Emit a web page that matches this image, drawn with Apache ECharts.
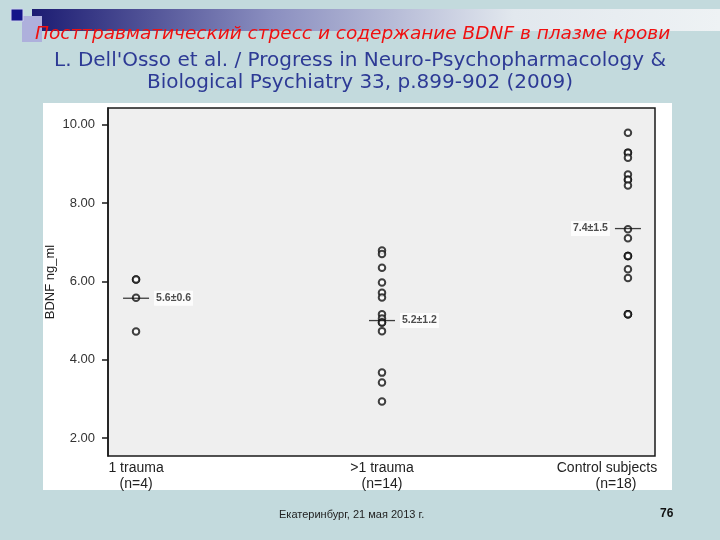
<!DOCTYPE html>
<html>
<head>
<meta charset="utf-8">
<script src="https://cdn.jsdelivr.net/npm/echarts@6/dist/echarts.min.js"></script>
<style>
  html, body { margin: 0; padding: 0; background: #c3dadd; }
  #chart { width: 720px; height: 540px; }
</style>
</head>
<body>
<div id="chart"></div>
<script>
// groups on the x axis
const groupNames = ["1 trauma", ">1 trauma", "Control subjects"];
const groupN = ["(n=4)", "(n=14)", "(n=18)"];

// BDNF ng/ml
const oneTrauma = [6.05, 6.05, 5.58, 4.72];
const multiTrauma = [6.79, 6.70, 6.35, 5.97, 5.71, 5.59, 5.16, 5.05, 4.95, 4.95, 4.73, 3.67, 3.42, 2.93];
const controls = [9.80, 9.29, 9.29, 9.16, 8.73, 8.60, 8.60, 8.45, 7.33, 7.10, 6.65, 6.65, 6.65, 6.31, 6.09, 5.16, 5.16, 5.16];

// mean marks and their labels
const meanLines = [5.57, 5.0, 7.35];
const meanLabels = ["5.6±0.6", "5.2±1.2", "7.4±1.5"];

const yTicks = [2, 4, 6, 8, 10];
const xTicks = [0, 1, 2];

const myChart = echarts.init(document.getElementById("chart"));

function pts(arr, g) {
  return arr.map(v => [g, v]);
}

const option = {
  backgroundColor: "#c3dadd",
  animation: false,
  graphic: [
    // top decoration
    {
      type: "rect", z: -2,
      shape: { x: 32, y: 9, width: 688, height: 22 },
      style: {
        fill: new echarts.graphic.LinearGradient(0, 0, 1, 0, [
          { offset: 0, color: "#1c1c72" },
          { offset: 0.35, color: "#8b8fc0" },
          { offset: 0.7, color: "#e2e8ee" },
          { offset: 1, color: "#eef2f4" }
        ])
      }
    },
    { type: "rect", z: -2, shape: { x: 22, y: 16, width: 20, height: 26 }, style: { fill: "#aeb0dc" } },
    { type: "rect", z: -2, shape: { x: 11, y: 9, width: 12, height: 12 }, style: { fill: "#14148a", stroke: "#cfd3f0", lineWidth: 1 } },
    // white panel behind the chart
    { type: "rect", z: -1, shape: { x: 43, y: 103, width: 629, height: 387 }, style: { fill: "#ffffff" } },
    {
      type: "text", left: 35, top: 25,
      style: {
        text: "Посттравматический стресс и содержание BDNF в плазме крови",
        fill: "#f01010", font: "italic 18.5px 'DejaVu Sans'"
      }
    },
    {
      type: "text", left: "center", top: 51,
      style: {
        text: "L. Dell'Osso et al. / Progress in Neuro-Psychopharmacology &",
        fill: "#2d3a95", font: "20px 'DejaVu Sans'"
      }
    },
    {
      type: "text", left: "center", top: 73,
      style: {
        text: "Biological Psychiatry 33, p.899-902 (2009)",
        fill: "#2d3a95", font: "20px 'DejaVu Sans'"
      }
    },
    {
      type: "text", left: 279, top: 509,
      style: { text: "Екатеринбург, 21 мая 2013 г.", fill: "#222", font: "11px 'Liberation Sans'" }
    },
    {
      type: "text", left: 660, top: 508,
      style: { text: "76", fill: "#111", font: "bold 12px 'Liberation Sans'" }
    }
  ],
  grid: {
    left: 108,
    right: 65,
    top: 108,
    bottom: 84,
    show: true,
    backgroundColor: "#efefef",
    borderColor: "#1a1a1a",
    borderWidth: 1.5
  },
  xAxis: {
    type: "value",
    min: -0.114,
    max: 2.11,
    axisLine: { show: false, onZero: false },
    axisTick: { show: false },
    splitLine: { show: false },
    axisLabel: {
      customValues: xTicks,
      margin: 4,
      color: "#222",
      fontFamily: "Liberation Sans",
      fontSize: 14,
      lineHeight: 16,
      formatter: v => {
        const i = Math.round(v);
        if (i === 2) return "{c1|" + groupNames[i] + "}\n{c2|" + groupN[i] + "}";
        return groupNames[i] + "\n" + groupN[i];
      },
      rich: {
        c1: { padding: [0, 42, 0, 0], fontSize: 14, lineHeight: 16, color: "#222", fontFamily: "Liberation Sans" },
        c2: { padding: [0, 24, 0, 0], fontSize: 14, lineHeight: 16, color: "#222", fontFamily: "Liberation Sans" }
      }
    }
  },
  yAxis: {
    type: "value",
    min: 1.54,
    max: 10.43,
    name: "BDNF ng_ml",
    nameLocation: "middle",
    nameRotate: 90,
    nameGap: 51,
    nameMoveOverlap: false,
    nameTextStyle: { color: "#222", fontSize: 13, fontFamily: "Liberation Sans" },
    axisLine: { show: true, onZero: false, lineStyle: { color: "#1a1a1a", width: 1.5 } },
    axisTick: { show: true, customValues: yTicks, length: 6, lineStyle: { color: "#1a1a1a", width: 1.5 } },
    splitLine: { show: false },
    axisLabel: {
      customValues: yTicks,
      margin: 13,
      color: "#333",
      fontSize: 13,
      fontFamily: "Liberation Sans",
      formatter: v => v.toFixed(2)
    }
  },
  series: [
    {
      type: "scatter",
      data: pts(oneTrauma, 0).concat(pts(multiTrauma, 1), pts(controls, 2)),
      symbol: "emptyCircle",
      symbolSize: 6.5,
      itemStyle: { color: "#111", borderColor: "#111", borderWidth: 1.6 }
    },
    {
      type: "scatter",
      z: 3,
      symbol: "rect",
      symbolSize: [26, 1.3],
      itemStyle: { color: "#111" },
      data: meanLines.map((m, i) => ({
        value: [i, m],
        label: { position: i === 2 ? "left" : "right" }
      })),
      label: {
        show: true,
        distance: 5,
        formatter: p => meanLabels[p.dataIndex],
        color: "#222",
        fontSize: 10.5,
        fontWeight: "bold",
        fontFamily: "Liberation Sans",
        backgroundColor: "#ffffff",
        padding: [2, 2]
      }
    }
  ]
};

myChart.setOption(option);
</script>
</body>
</html>
